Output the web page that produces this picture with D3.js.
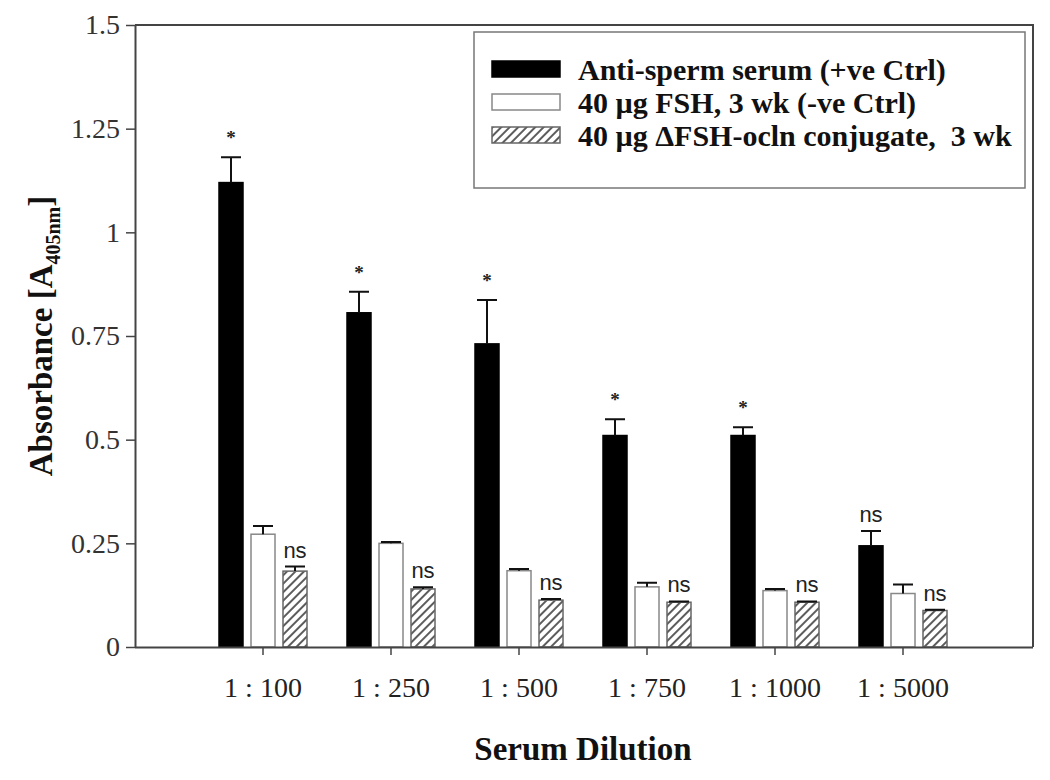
<!DOCTYPE html>
<html>
<head>
<meta charset="utf-8">
<script src="https://cdn.jsdelivr.net/npm/d3@7"></script>
<style>
  body { margin: 0; background: #fff; }
  #chart { width: 1050px; height: 780px; }
</style>
</head>
<body>
<div id="chart"></div>
<script>
const categories = ["1 : 100", "1 : 250", "1 : 500", "1 : 750", "1 : 1000", "1 : 5000"];
const seriesNames = [
  "Anti-sperm serum (+ve Ctrl)",
  "40 µg FSH, 3 wk (-ve Ctrl)",
  "40 µg ΔFSH-ocln conjugate,  3 wk"
];
const antiSperm = [1.12, 0.806, 0.731, 0.510, 0.510, 0.244];
const antiSpermErr = [0.061, 0.051, 0.106, 0.039, 0.020, 0.036];
const fsh = [0.272, 0.250, 0.184, 0.145, 0.136, 0.129];
const fshErr = [0.020, 0.003, 0.004, 0.010, 0.004, 0.022];
const conj = [0.183, 0.140, 0.113, 0.108, 0.108, 0.088];
const conjErr = [0.011, 0.004, 0.003, 0.002, 0.002, 0.002];
const antiSpermMarks = ["*", "*", "*", "*", "*", "ns"];
const conjMarks = ["ns", "ns", "ns", "ns", "ns", "ns"];
const yTicks = [0, 0.25, 0.5, 0.75, 1, 1.25, 1.5];

function drawChart() {
  const container = d3.select("#chart");
  container.selectAll("*").remove();

  const width = 1050;
  const height = 780;
  const margin = { top: 25, right: 17, bottom: 133, left: 135 };

  const svg = container.append("svg")
    .attr("width", width)
    .attr("height", height);

  const serif = "'Liberation Serif', 'Times New Roman', serif";
  const sans = "'Liberation Sans', Arial, sans-serif";

  const defs = svg.append("defs");
  const pat = defs.append("pattern")
    .attr("id", "hatch")
    .attr("patternUnits", "userSpaceOnUse")
    .attr("width", 6)
    .attr("height", 6)
    .attr("patternTransform", "rotate(45)");
  pat.append("rect").attr("width", 6).attr("height", 6).attr("fill", "#fff");
  pat.append("line")
    .attr("x1", 1).attr("y1", 0).attr("x2", 1).attr("y2", 6)
    .attr("stroke", "#333").attr("stroke-width", 1.6);

  const series = [
    { name: seriesNames[0], values: antiSperm, err: antiSpermErr, marks: antiSpermMarks, fill: "#000", stroke: "#000" },
    { name: seriesNames[1], values: fsh, err: fshErr, marks: null, fill: "#fff", stroke: "#888" },
    { name: seriesNames[2], values: conj, err: conjErr, marks: conjMarks, fill: "url(#hatch)", stroke: "#666" }
  ];

  const x = d3.scaleBand()
    .domain(categories)
    .range([199, 967])
    .paddingInner(0.25)
    .paddingOuter(0.125);

  const xSub = d3.scaleBand()
    .domain(series.map(s => s.name))
    .range([0, x.bandwidth()])
    .paddingInner(0.25)
    .paddingOuter(0.125);

  const y = d3.scaleLinear()
    .domain([0, 1.5])
    .range([height - margin.bottom, margin.top]);

  const plotRight = width - margin.right;
  const plotBottom = height - margin.bottom;

  // frame (top and right)
  svg.append("path")
    .attr("d", `M${margin.left},${margin.top}H${plotRight}V${plotBottom}`)
    .attr("fill", "none")
    .attr("stroke", "#444")
    .attr("stroke-width", 2);

  // bars
  series.forEach(s => {
    const g = svg.append("g");
    const rows = categories.map((c, i) => ({ c, v: s.values[i], e: s.err[i], m: s.marks ? s.marks[i] : null }));

    g.selectAll("rect")
      .data(rows)
      .join("rect")
      .attr("x", d => x(d.c) + xSub(s.name))
      .attr("y", d => y(d.v))
      .attr("width", xSub.bandwidth())
      .attr("height", d => y(0) - y(d.v))
      .attr("fill", s.fill)
      .attr("stroke", s.stroke)
      .attr("stroke-width", 1.5);

    const cx = d => x(d.c) + xSub(s.name) + xSub.bandwidth() / 2;

    g.selectAll(".err")
      .data(rows)
      .join("path")
      .attr("class", "err")
      .attr("d", d => `M${cx(d)},${y(d.v)}V${y(d.v + d.e)}M${cx(d) - 10},${y(d.v + d.e)}H${cx(d) + 10}`)
      .attr("fill", "none")
      .attr("stroke", "#111")
      .attr("stroke-width", 2);

    if (s.marks) {
      g.selectAll(".mark")
        .data(rows)
        .join("text")
        .attr("class", "mark")
        .attr("x", d => cx(d))
        .attr("y", d => d.m === "*" ? y(d.v + d.e) - 13 : y(d.v + d.e) - 9)
        .attr("text-anchor", "middle")
        .attr("font-family", d => d.m === "*" ? serif : sans)
        .attr("font-weight", d => d.m === "*" ? "bold" : "normal")
        .attr("font-size", d => d.m === "*" ? 19 : 22)
        .attr("fill", "#222")
        .text(d => d.m);
    }
  });

  // x axis
  const xAxis = svg.append("g")
    .attr("transform", `translate(0,${plotBottom})`)
    .call(d3.axisBottom(x).tickSize(8).tickPadding(22).tickSizeOuter(0));
  xAxis.select(".domain")
    .attr("d", `M${margin.left},0.5H${plotRight}`)
    .attr("stroke", "#444")
    .attr("stroke-width", 2);
  xAxis.selectAll(".tick line").attr("stroke", "#444").attr("stroke-width", 1.5);
  xAxis.selectAll(".tick text")
    .attr("font-family", serif)
    .attr("font-size", 28)
    .attr("fill", "#222");

  // y axis
  const yAxis = svg.append("g")
    .attr("transform", `translate(${margin.left},0)`)
    .call(d3.axisLeft(y).tickValues(yTicks).tickFormat(d3.format("")).tickSize(9).tickPadding(6).tickSizeOuter(0));
  yAxis.select(".domain").attr("stroke", "#444").attr("stroke-width", 2);
  yAxis.selectAll(".tick line").attr("stroke", "#444").attr("stroke-width", 1.5);
  yAxis.selectAll(".tick text")
    .attr("font-family", serif)
    .attr("font-size", 28)
    .attr("fill", "#333");

  // axis titles
  svg.append("text")
    .attr("x", 583)
    .attr("y", 760)
    .attr("text-anchor", "middle")
    .attr("font-family", serif)
    .attr("font-weight", "bold")
    .attr("font-size", 33)
    .attr("fill", "#111")
    .text("Serum Dilution");

  const yTitle = svg.append("text")
    .attr("transform", `translate(52,${(margin.top + plotBottom) / 2}) rotate(-90)`)
    .attr("text-anchor", "middle")
    .attr("font-family", serif)
    .attr("font-weight", "bold")
    .attr("font-size", 33)
    .attr("fill", "#111");
  yTitle.append("tspan").text("Absorbance [A");
  yTitle.append("tspan").attr("font-size", 20).attr("dy", 8).text("405nm");
  yTitle.append("tspan").attr("dy", -8).text("]");

  // legend
  const lg = svg.append("g").attr("transform", "translate(474,32)");
  lg.append("rect")
    .attr("width", 551)
    .attr("height", 156)
    .attr("fill", "#fff")
    .attr("stroke", "#777")
    .attr("stroke-width", 1.5);
  series.forEach((s, i) => {
    const row = lg.append("g").attr("transform", `translate(18,${37 + i * 33})`);
    row.append("rect")
      .attr("x", 0)
      .attr("y", -8)
      .attr("width", 68)
      .attr("height", 16)
      .attr("fill", s.fill)
      .attr("stroke", s.stroke)
      .attr("stroke-width", 1.5);
    row.append("text")
      .attr("x", 86)
      .attr("y", 0)
      .attr("dy", "0.35em")
      .attr("font-family", serif)
      .attr("font-weight", "bold")
      .attr("font-size", 30)
      .attr("fill", "#111")
      .style("white-space", "pre")
      .text(s.name);
  });
}

drawChart();
</script>
</body>
</html>
